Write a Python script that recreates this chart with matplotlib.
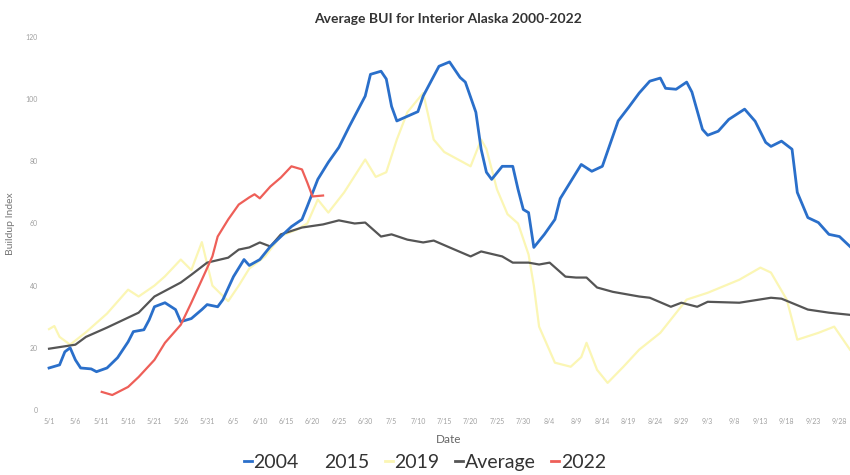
import matplotlib
matplotlib.use("Agg")
import matplotlib.pyplot as plt
from matplotlib.lines import Line2D

# days counted from 5/1
tick_labels = ["5/1", "5/6", "5/11", "5/16", "5/21", "5/26", "5/31", "6/5", "6/10", "6/15",
               "6/20", "6/25", "6/30", "7/5", "7/10", "7/15", "7/20", "7/25", "7/30", "8/4",
               "8/9", "8/14", "8/19", "8/24", "8/29", "9/3", "9/8", "9/13", "9/18", "9/23", "9/28"]

days_2004 = [0, 2, 3, 4, 5, 6, 8, 9, 11, 13, 15, 16, 18, 19, 20, 22, 24, 25, 27, 29, 30, 32, 33,
             35, 37, 38, 40, 42, 46, 48, 49, 51, 53, 55, 57, 60, 61, 63, 64, 65, 66, 68, 70, 71,
             74, 76, 78, 79, 81, 82, 83, 84, 86, 88, 89, 90, 91, 92, 94, 96, 97, 101, 103, 105,
             108, 110, 112, 114, 116, 117, 119, 121, 122, 124, 125, 127, 129, 132, 134, 136,
             137, 139, 141, 142, 144, 146, 148, 150, 152]
bui_2004 = [13.5, 14.5, 18.7, 20, 16.1, 13.5, 13.2, 12.3, 13.5, 16.8, 21.9, 25.2, 25.8, 29, 33.2,
            34.5, 32.3, 28.4, 29.4, 32.3, 33.9, 33.2, 35.5, 42.9, 48.4, 46.5, 48.4, 52.6, 59,
            61.3, 65.5, 74.2, 79.7, 84.5, 91.3, 101, 108, 109, 106.5, 97.7, 93, 94.5, 96, 101,
            110.6, 112, 107, 105.5, 95.8, 83.9, 76.5, 74.2, 78.4, 78.4, 71, 64.5, 63.5, 52.3,
            56.5, 61.3, 68, 79, 76.8, 78.4, 93, 97.4, 102, 105.8, 106.8, 103.5, 103.2, 105.5,
            102.3, 90.3, 88.4, 89.7, 93.5, 96.8, 92.9, 86.1, 84.8, 86.5, 83.9, 70, 61.9, 60.3,
            56.5, 55.8, 52.6]

days_2019 = [0, 1, 2, 4, 7, 11, 15, 17, 20, 22, 25, 27, 29, 31, 34, 36, 38, 41, 44, 47, 49, 51,
             53, 56, 60, 62, 64, 66, 68, 71, 73, 75, 80, 82, 83, 85, 87, 89, 91, 92, 93, 96, 99,
             101, 102, 104, 106, 109, 112, 116, 121, 125, 131, 135, 137, 140, 142, 146, 149, 152]
bui_2019 = [26, 27, 23.5, 21, 25, 31, 38.7, 36.5, 40, 43, 48.4, 45, 54, 40, 35, 40, 45.5, 49.4,
            56, 58, 60, 67.7, 63.5, 70, 80.6, 75, 76.5, 87, 95.8, 102, 87, 83, 78.4, 87, 84, 71,
            63, 60, 50, 40, 26.8, 15.2, 13.9, 17, 21.6, 12.9, 8.7, 13.9, 19.4, 24.8, 35.5, 37.7,
            41.9, 45.8, 44.2, 35.5, 22.6, 24.8, 26.8, 19.4]

days_avg = [0, 5, 7, 11, 17, 20, 25, 27, 30, 34, 36, 38, 40, 42, 44, 48, 52, 55, 58, 60, 63, 65,
            68, 71, 73, 76, 80, 82, 86, 88, 91, 93, 95, 98, 100, 102, 104, 107, 112, 114, 118,
            120, 123, 125, 131, 137, 139, 144, 148, 152]
bui_avg = [19.7, 21, 23.5, 26.5, 31.3, 36.5, 41, 43.5, 47.4, 49, 51.6, 52.3, 53.9, 52.6, 56.5,
           58.7, 59.7, 61, 60, 60.3, 55.8, 56.5, 54.8, 53.9, 54.5, 52.3, 49.4, 51, 49.4, 47.4,
           47.4, 46.8, 47.4, 42.9, 42.6, 42.6, 39.4, 38, 36.5, 36.1, 33.2, 34.5, 33.2, 34.8,
           34.5, 36.1, 35.8, 32.3, 31.3, 30.6]

days_2022 = [10, 12, 15, 17, 20, 22, 25, 27, 29, 31, 32, 34, 36, 38, 39, 40, 42, 44, 46, 48, 49,
             50, 52]
bui_2022 = [5.8, 4.8, 7.4, 10.6, 16.1, 21.6, 27.4, 34.5, 41.9, 49.4, 55.8, 61.3, 66.1, 68.4,
            69.4, 68.1, 71.9, 74.8, 78.4, 77.4, 73.2, 68.7, 69]

plt.rcParams['font.family'] = ['Lato', 'DejaVu Sans']

fig = plt.figure(figsize=(8.5, 4.75), dpi=100)
ax = fig.add_axes([0.0546, 0.137, 0.9454, 0.785])

ax.plot(days_2019, bui_2019, color='#fbf6b4', lw=1.6, label='2019')
ax.plot(days_avg, bui_avg, color='#555555', lw=1.6, label='Average')
ax.plot(days_2004, bui_2004, color='#2a6fca', lw=2.0, label='2004')
ax.plot(days_2022, bui_2022, color='#ee5f58', lw=1.6, label='2022')

ax.set_xlim(-0.5, 152)
ax.set_ylim(0, 120)
ax.set_xticks(range(0, 151, 5))
ax.set_xticklabels(tick_labels)
ax.set_yticks(range(0, 121, 20))
ax.tick_params(axis='both', length=0, labelsize=5, labelcolor='#a0a0a0')
ax.tick_params(axis='x', pad=6)
ax.tick_params(axis='y', pad=6)
for s in ax.spines.values():
    s.set_visible(False)

ax.set_xlabel('Date', fontsize=8.5, color='#666666', labelpad=6)
ax.set_ylabel('Buildup Index', fontsize=7.5, color='#777777', labelpad=8)
ax.set_title('Average BUI for Interior Alaska 2000-2022', fontsize=10, fontweight='bold',
             color='#333333', pad=10)

handles = [Line2D([], [], color='#2a6fca', lw=2),
           Line2D([], [], color='#ffffff', lw=2),
           Line2D([], [], color='#fbf6b4', lw=2),
           Line2D([], [], color='#555555', lw=2),
           Line2D([], [], color='#ee5f58', lw=2)]
fig.legend(handles, ['2004', '2015', '2019', 'Average', '2022'], loc='center',
           bbox_to_anchor=(0.5, 0.027), ncol=5, frameon=False, fontsize=14,
           handlelength=0.4, handletextpad=0.1, columnspacing=0.8, labelcolor='#333333')

fig.savefig('out.png', dpi=100)
